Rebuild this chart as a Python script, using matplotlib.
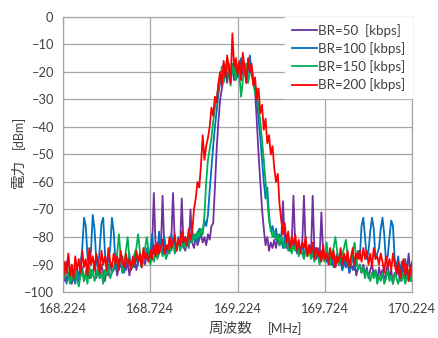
import matplotlib
matplotlib.use("Agg")
import matplotlib.pyplot as plt
import numpy as np

plt.rcParams['font.family'] = ['Lato', 'Noto Sans CJK JP', 'DejaVu Sans']

# sweep axis: 201 points, 10 kHz step from 168.224 MHz
f_start = 168.224
f_step = 0.01
n_pts = 201

labels = ["BR=50  [kbps]", "BR=100 [kbps]", "BR=150 [kbps]", "BR=200 [kbps]"]
colors = ["#7030A0", "#0070C0", "#00B050", "#FF0000"]

br50 = [
    -93, -96, -90, -87, -94, -97, -92, -95, -91, -96,
    -94, -91, -96, -93, -90, -95, -92, -94, -89, -95,
    -92, -95, -90, -93, -96, -91, -94, -89, -93, -92,
    -90, -94, -91, -88, -93, -90, -92, -89, -94, -90,
    -91, -88, -92, -89, -87, -91, -88, -90, -86, -89,
    -87, -84, -64, -83, -86, -82, -85, -65, -84, -86,
    -83, -85, -81, -64, -82, -85, -81, -84, -66, -83,
    -85, -81, -84, -70, -82, -84, -80, -83, -81, -79,
    -82, -80, -83, -79, -81, -76, -75, -62, -48, -38,
    -30, -26, -22, -19, -24, -17, -21, -18, -23, -16,
    -20,
    -17, -22, -15, -19, -23, -18, -16, -21, -24, -27,
    -38, -50, -60, -70, -77, -83, -80, -85, -82, -84,
    -81, -84, -80, -83, -81, -67, -82, -84, -81, -85,
    -82, -65, -83, -85, -82, -86, -83, -65, -84, -86,
    -83, -87, -65, -85, -88, -84, -87, -71, -86, -88,
    -85, -89, -87, -90, -86, -91, -88, -90, -87, -92,
    -89, -91, -88, -93, -90, -92, -89, -94, -91, -90,
    -93, -90, -94, -91, -95, -92, -90, -94, -92, -96,
    -91, -94, -92, -96, -93, -90, -95, -92, -97, -93,
    -94, -91, -96, -93, -89, -95, -92, -86, -94, -96,
]

br100 = [
    -95, -92, -97, -93, -96, -91, -94, -97, -92, -95,
    -90, -84, -73, -76, -87, -91, -85, -72, -77, -88,
    -92, -84, -75, -73, -86, -90, -89, -84, -73, -78,
    -89, -92, -88, -91, -87, -93, -89, -90, -86, -92,
    -88, -91, -87, -90, -86, -89, -85, -88, -84, -87,
    -85, -79, -86, -83, -87, -78, -84, -86, -80, -85,
    -83, -86, -79, -84, -82, -85, -80, -83, -81, -84,
    -80, -83, -79, -82, -78, -81, -79, -82, -77, -80,
    -78, -74, -76, -72, -63, -55, -47, -40, -34, -28,
    -24, -20, -17, -22, -15, -19, -23, -18, -21, -16,
    -22,
    -18, -15, -21, -17, -24, -19, -14, -20, -23, -26,
    -30, -37, -44, -52, -60, -66, -62, -72, -78, -76,
    -80, -77, -82, -79, -81, -84, -80, -83, -81, -85,
    -82, -84, -81, -86, -83, -85, -82, -87, -84, -86,
    -83, -87, -85, -88, -84, -86, -89, -85, -88, -87,
    -89, -86, -90, -87, -91, -88, -86, -90, -89, -92,
    -88, -91, -89, -93, -90, -87, -92, -89, -85, -88,
    -76, -73, -80, -88, -85, -78, -73, -77, -88, -86,
    -84, -77, -73, -79, -89, -87, -80, -74, -76, -88,
    -91, -87, -93, -89, -95, -88, -92, -96, -90, -94,
]

br150 = [
    -92, -95, -90, -94, -97, -93, -96, -91, -95, -98,
    -94, -92, -96, -93, -97, -90, -95, -92, -96, -94,
    -91, -95, -93, -97, -92, -94, -90, -95, -93, -91,
    -89, -86, -79, -87, -93, -90, -85, -80, -88, -92,
    -89, -86, -84, -79, -85, -91, -88, -84, -80, -85,
    -90, -87, -89, -85, -88, -86, -84, -87, -85, -88,
    -86, -83, -85, -82, -86, -84, -81, -85, -83, -82,
    -84, -81, -83, -80, -82, -79, -81, -78, -80, -77,
    -79, -72, -60, -52, -48, -44, -38, -33, -30, -25,
    -22, -18, -24, -20, -16, -21, -25, -17, -19, -23,
    -18,
    -21, -29, -23, -19, -17, -24, -20, -18, -22, -28,
    -26, -33, -38, -45, -52, -60, -66, -74, -77, -80,
    -78, -81, -79, -83, -80, -82, -84, -81, -85, -83,
    -86, -83, -85, -82, -87, -84, -86, -88, -85, -87,
    -84, -88, -86, -89, -85, -87, -90, -86, -88, -89,
    -82, -88, -90, -86, -84, -80, -85, -90, -88, -86,
    -84, -81, -86, -91, -89, -85, -82, -88, -92, -90,
    -93, -91, -95, -92, -94, -96, -93, -95, -92, -97,
    -94, -96, -93, -97, -95, -92, -96, -94, -97, -93,
    -95, -97, -94, -96, -93, -97, -95, -92, -96, -94,
]

br200 = [
    -96, -89, -93, -86, -94, -90, -95, -87, -92, -88,
    -93, -85, -91, -88, -94, -84, -90, -87, -92, -86,
    -89, -93, -85, -90, -87, -92, -84, -89, -91, -86,
    -90, -87, -92, -85, -89, -91, -86, -90, -88, -92,
    -87, -90, -85, -89, -86, -91, -84, -88, -86, -89,
    -85, -88, -83, -87, -82, -86, -84, -81, -86, -83,
    -85, -80, -84, -82, -79, -85, -81, -83, -78, -82,
    -80, -83, -77, -81, -78, -70, -66, -60, -62, -54,
    -43, -52, -47, -44, -40, -33, -36, -29, -31, -24,
    -20, -25, -16, -22, -14, -19, -24, -6, -18, -15,
    -21,
    -16, -23, -13, -19, -24, -15, -20, -17, -25, -22,
    -30, -26, -35, -32, -41, -37, -46, -43, -50, -47,
    -55, -60, -57, -68, -74, -79, -75, -82, -78, -84,
    -80, -83, -79, -85, -81, -86, -82, -84, -80, -87,
    -83, -86, -82, -88, -84, -87, -85, -89, -83, -88,
    -86, -90, -84, -88, -85, -91, -87, -89, -84, -90,
    -86, -89, -85, -91, -87, -84, -90, -86, -88, -85,
    -89, -84, -88, -85, -90, -86, -91, -84, -88, -87,
    -90, -86, -89, -93, -87, -91, -88, -92, -86, -90,
    -93, -89, -95, -91, -88, -94, -90, -96, -92, -89,
]

freq = f_start + f_step * np.arange(n_pts)
x_ticks = [168.224, 168.724, 169.224, 169.724, 170.224]
y_ticks = list(range(-100, 1, 10))
txt_col = "#404040"

fig = plt.figure(figsize=(4.38, 3.38), dpi=100)
ax = fig.add_axes([0.144, 0.136, 0.797, 0.814])

for vals, lab, col in zip([br50, br100, br150, br200], labels, colors):
    ax.plot(freq, vals, color=col, lw=1.3, label=lab)

ax.set_xlim(168.224, 170.224)
ax.set_ylim(-100, 0)
ax.set_xticks(x_ticks)
ax.set_xticklabels([f"{t:.3f}" for t in x_ticks])
ax.set_yticks(y_ticks)
ax.grid(True, color="#a6a6a6", lw=0.9)
ax.set_axisbelow(True)
for s in ax.spines.values():
    s.set_color("#a6a6a6")
    s.set_linewidth(0.9)
ax.tick_params(axis="both", length=0, labelsize=9.3, colors=txt_col)
ax.tick_params(axis="y", pad=7)
ax.tick_params(axis="x", pad=8)

# axis titles: Japanese part drawn larger than the unit, as in the original
fig.text(0.477, 0.027, "周波数", fontsize=10.5, color=txt_col, ha="left", va="center")
fig.text(0.612, 0.027, "[MHz]", fontsize=9, color=txt_col, ha="left", va="center")
fig.text(0.043, 0.487, "電力", fontsize=10.5, color=txt_col, rotation=90,
         ha="center", va="center")
fig.text(0.043, 0.607, "[dBm]", fontsize=9, color=txt_col, rotation=90,
         ha="center", va="center")

leg = ax.legend(loc="upper right", bbox_to_anchor=(1.0, 1.0), borderaxespad=0,
                frameon=True, fancybox=False, framealpha=1, edgecolor="white",
                fontsize=9.6, handlelength=1.9, handletextpad=0.1,
                labelspacing=0.4, borderpad=0.5)
for t in leg.get_texts():
    t.set_color(txt_col)

fig.savefig("out.png", dpi=100)
